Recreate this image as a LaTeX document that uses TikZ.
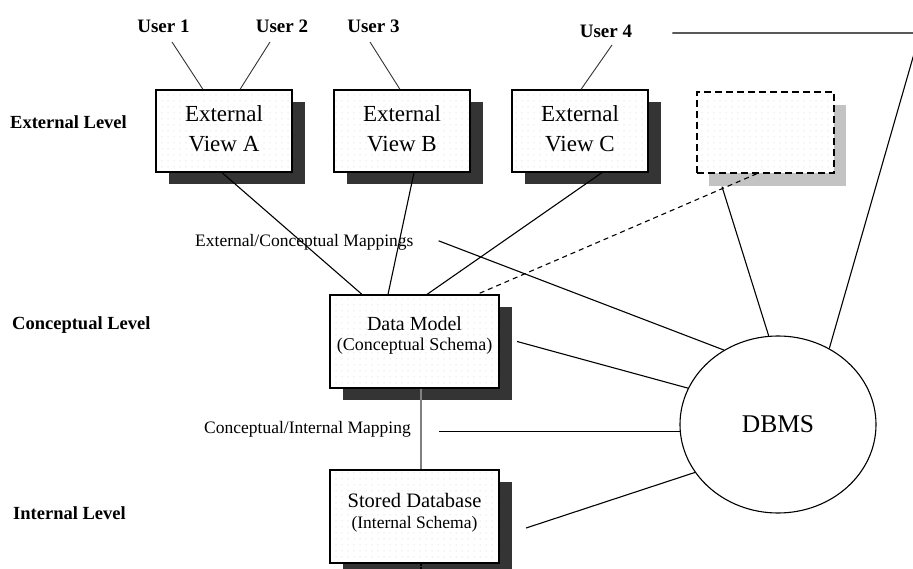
\documentclass[tikz,border=0pt]{standalone}
\usepackage{fontspec}
\setmainfont{Liberation Serif}
\usetikzlibrary{shapes.geometric,calc,patterns.meta}
\definecolor{shadowc}{RGB}{52,52,52}
\definecolor{lightsh}{RGB}{195,195,195}
\definecolor{dotc}{RGB}{200,200,200}
\definecolor{vline}{RGB}{128,128,128}
\tikzdeclarepattern{name=sparsedots, type=uncolored,
  bounding box={(-3pt,-3pt) and (3pt,3pt)}, tile size={(6pt,6pt)},
  code={\fill (0pt,0pt) circle (0.5pt);}}
\begin{document}
\begin{tikzpicture}[x=1pt,y=-1pt,
  conn/.style={line width=1.1pt, black},
  uconn/.style={line width=0.9pt, black!80},
  lvl/.style={font=\fontsize{18.5}{22}\bfseries, anchor=west, inner sep=0pt},
  usr/.style={font=\fontsize{19}{22}\bfseries, anchor=base, inner sep=0pt},
  maplbl/.style={font=\fontsize{17.5}{20}\selectfont, anchor=base west, inner sep=0pt},
  boxbase/.style={draw=black, line width=1.2pt, inner sep=0pt,
     preaction={fill=shadowc, transform canvas={shift={(13pt,-12pt)}}},
     preaction={fill=white},
     pattern=sparsedots, pattern color=dotc},
  viewbox/.style={boxbase, minimum width=136pt, minimum height=82pt},
  bigbox/.style={boxbase, minimum width=169pt, minimum height=93pt},
  ghostbox/.style={draw=black, line width=1.3pt, dash pattern=on 7pt off 4pt, inner sep=0pt,
     minimum width=137pt, minimum height=81pt,
     preaction={fill=lightsh, transform canvas={shift={(12pt,-13pt)}}},
     preaction={fill=white},
     pattern=sparsedots, pattern color=dotc},
  viewtxt/.style={font=\fontsize{23}{30}\selectfont, align=center, inner sep=0pt},
]
\clip (0,0) rectangle (913,569);
\fill[white] (0,0) rectangle (913,569);

% level labels
\node[lvl] (extlvl) at (10,122) {External Level};
\node[lvl] (conlvl) at (12,325) {Conceptual Level};
\node[lvl] (intlvl) at (13,513) {Internal Level};

% users
\node[usr] (u1) at (163.5,33) {User 1};
\node[usr] (u2) at (282,33) {User 2};
\node[usr] (u3) at (373.5,33) {User 3};
\node[usr] (u4) at (606,38) {User 4};

% external views
\node[viewbox] (A) at (224,131) {};
\node[viewbox] (B) at (402,131) {};
\node[viewbox] (C) at (580,131) {};
\node[ghostbox] (G) at (765.5,132.5) {};
\node[viewtxt] (At) at ([yshift=2.5pt]A.center) {External\\View A};
\node[viewtxt] (Bt) at ([yshift=2.5pt]B.center) {External\\View B};
\node[viewtxt] (Ct) at ([yshift=2.5pt]C.center) {External\\View C};

% conceptual and internal boxes
\node[bigbox] (DM) at (414.5,341.5) {};
\node[bigbox] (SD) at (414.5,516.5) {};
\node[align=center, inner sep=0pt, font=\fontsize{20}{19.5}\selectfont] (DMt) at ([yshift=6pt]DM.center)
  {Data Model\\{\fontsize{18}{19.5}\selectfont (Conceptual Schema)}};
\node[align=center, inner sep=0pt, font=\fontsize{20.5}{21.5}\selectfont] (SDt) at ([yshift=4pt]SD.center)
  {Stored Database\\{\fontsize{17.5}{21.5}\selectfont (Internal Schema)}};

% DBMS
\node[ellipse, draw=black, line width=1.1pt, fill=white, minimum width=196pt, minimum height=177pt, inner sep=0pt,
  font=\fontsize{25.5}{28}\selectfont] (DBMS) at (778,424.5) {DBMS};

% mapping labels
\node[maplbl] (map1) at (195,247) {External/Conceptual Mappings};
\node[maplbl] (map2) at (204,433) {Conceptual/Internal Mapping};

% user connectors
\draw[uconn] ($(u1.base)+(8.5,9)$) -- ($(A.north)+(-21,0)$);
\draw[uconn] ($(u2.base)+(-12,9)$) -- ($(A.north)+(16,0)$);
\draw[uconn] ($(u3.base)+(-3.5,9)$) -- ($(B.north)+(-2,0)$);
\draw[uconn] ($(u4.base)+(6,7)$) -- ($(C.north)+(1,0)$);

% views to data model
\draw[conn] ($(A.south)+(-2,0)$) -- ($(DM.north)+(-52.5,0)$);
\draw[conn] ($(B.south)+(12,0)$) -- ($(DM.north)+(-26.5,0)$);
\draw[conn] ($(C.south)+(22,0)$) -- ($(DM.north)+(12.5,0)$);
\draw[conn, dash pattern=on 5pt off 4pt] ($(G.south)+(-8.5,0)$) -- ($(DM.north)+(62.5,0)$);

% connectors to DBMS
\draw[conn] ($(G.south)+(-43.5,13)$) -- (DBMS.96);
\coordinate (corner) at (920,33);
\coordinate (topstart) at ($(u4.east)+(40,0)$);
\draw[conn] (topstart |- corner) -- (corner) -- (DBMS.56);
\draw[conn] ($(map1.east)+(25,-2)$) -- (DBMS.126);
\draw[conn] ($(DM.east)+(17.5,0)$) -- (DBMS.158);
\coordinate (map2start) at ($(map2.east)+(28,0)$);
\draw[conn] (map2start |- DBMS.184) -- (DBMS.184);
\draw[conn] ($(SD.east)+(26.5,11.5)$) -- (DBMS.210);

% conceptual/internal vertical link
\draw[vline, line width=2pt] ($(DM.south)+(6.5,0)$) -- ($(SD.north)+(6.5,0)$);
\coordinate (bottomend) at ($(SD.south)+(6.5,10)$);
\draw[black, line width=1.2pt, dash pattern=on 2pt off 1pt] ($(SD.south)+(6.5,0)$) -- (bottomend);
\end{tikzpicture}
\end{document}
